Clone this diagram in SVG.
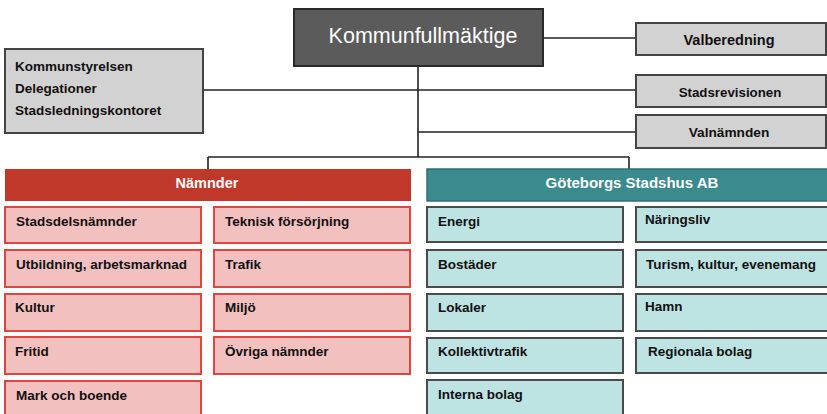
<svg xmlns="http://www.w3.org/2000/svg" width="827" height="414" viewBox="0 0 827 414">
<style>
text{font-family:"Liberation Sans",Arial,sans-serif;font-weight:bold;fill:#111}
.kf{fill:#5b5b5b;stroke:#2a2a2a;stroke-width:2}
.grey{fill:#d2d2d2;stroke:#444;stroke-width:2}
.redh{fill:#c0382a}
.pink{fill:#f3c0c0;stroke:#e0463f;stroke-width:2}
.tealh{fill:#3b8a8e;stroke:#2f6f72;stroke-width:1.5}
.teal{fill:#bde3e3;stroke:#4a4a4a;stroke-width:2}
.w{fill:#fff}
.c{text-anchor:middle}
.t{font-size:13.5px}
.conn line{stroke:#222;stroke-width:1.6}
</style>
<rect width="827" height="414" fill="#fff"/>
<g class="conn" id="connectors">
<line x1="543" y1="38" x2="636" y2="38"/>
<line x1="418" y1="66" x2="418" y2="157"/>
<line x1="203" y1="90" x2="636" y2="90"/>
<line x1="418" y1="132" x2="636" y2="132"/>
<line x1="208" y1="157" x2="629" y2="157"/>
<line x1="208" y1="157" x2="208" y2="169"/>
<line x1="629" y1="157" x2="629" y2="169"/>
</g>
<g id="kommunfullmaktige"><rect class="kf" x="294" y="9" width="249" height="57"/><text class="w c" x="423" y="43" style="font-weight:normal;font-size:21.5px">Kommunfullmäktige</text></g>
<g id="kommunstyrelsen"><rect class="grey" x="5" y="49" width="198" height="84"/>
<text class="t" x="15" y="71">Kommunstyrelsen</text>
<text class="t" x="15" y="93">Delegationer</text>
<text class="t" x="15" y="115">Stadsledningskontoret</text></g>
<g id="valberedning"><rect class="grey" x="636" y="23" width="190" height="32"/><text class="c" x="729" y="45" style="font-size:14.5px">Valberedning</text></g>
<g id="stadsrevisionen"><rect class="grey" x="636" y="75" width="190" height="32"/><text class="c" x="730" y="97" style="font-size:13.3px">Stadsrevisionen</text></g>
<g id="valnamnden"><rect class="grey" x="636" y="115" width="190" height="33"/><text class="c" x="729" y="137" style="font-size:13.7px">Valnämnden</text></g>
<g id="namnder"><rect class="redh" x="5" y="169" width="406" height="32"/><text class="w c" x="207" y="188" style="font-size:14.5px">Nämnder</text></g>
<g id="stadshus"><rect class="tealh" x="427" y="169" width="402" height="32"/><text class="w c" x="632" y="188" style="font-size:15px">Göteborgs Stadshus AB</text></g>
<g id="stadsdelsnamnder"><rect class="pink" x="5" y="207" width="196" height="36"/><text class="t" x="16" y="226">Stadsdelsnämnder</text></g>
<g id="utbildning"><rect class="pink" x="5" y="250" width="196" height="37"/><text class="t" x="16" y="269">Utbildning, arbetsmarknad</text></g>
<g id="kultur"><rect class="pink" x="5" y="294" width="196" height="37"/><text class="t" x="15" y="312">Kultur</text></g>
<g id="fritid"><rect class="pink" x="5" y="337" width="196" height="37"/><text class="t" x="15" y="356">Fritid</text></g>
<g id="mark"><rect class="pink" x="5" y="381" width="196" height="40"/><text class="t" x="16" y="400">Mark och boende</text></g>
<g id="teknisk"><rect class="pink" x="214" y="207" width="196" height="36"/><text class="t" x="225" y="226">Teknisk försörjning</text></g>
<g id="trafik"><rect class="pink" x="214" y="250" width="196" height="37"/><text class="t" x="225" y="269">Trafik</text></g>
<g id="miljo"><rect class="pink" x="214" y="294" width="196" height="37"/><text class="t" x="225" y="312">Miljö</text></g>
<g id="ovriga"><rect class="pink" x="214" y="337" width="196" height="37"/><text class="t" x="225" y="356">Övriga nämnder</text></g>
<g id="energi"><rect class="teal" x="427" y="207" width="196" height="35"/><text class="t" x="438" y="226">Energi</text></g>
<g id="bostader"><rect class="teal" x="427" y="250" width="196" height="37"/><text class="t" x="438" y="269">Bostäder</text></g>
<g id="lokaler"><rect class="teal" x="427" y="294" width="196" height="37"/><text class="t" x="438" y="312">Lokaler</text></g>
<g id="kollektivtrafik"><rect class="teal" x="427" y="338" width="196" height="35"/><text class="t" x="438" y="356">Kollektivtrafik</text></g>
<g id="interna"><rect class="teal" x="427" y="380" width="196" height="40"/><text class="t" x="438" y="399">Interna bolag</text></g>
<g id="naringsliv"><rect class="teal" x="636" y="207" width="192" height="35"/><text class="t" x="645" y="224">Näringsliv</text></g>
<g id="turism"><rect class="teal" x="636" y="250" width="192" height="37"/><text class="t" x="646" y="269">Turism, kultur, evenemang</text></g>
<g id="hamn"><rect class="teal" x="636" y="294" width="192" height="37"/><text class="t" x="645" y="311">Hamn</text></g>
<g id="regionala"><rect class="teal" x="636" y="338" width="192" height="35"/><text class="t" x="648" y="356">Regionala bolag</text></g>
</svg>
